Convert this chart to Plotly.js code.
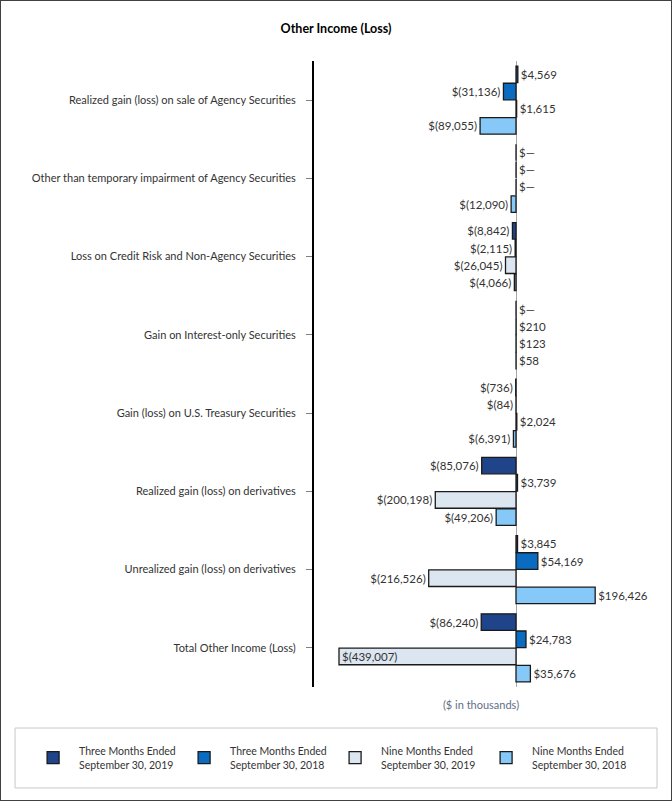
<!DOCTYPE html>
<html>
<head>
<meta charset="utf-8">
<script src="https://cdn.plot.ly/plotly-3.0.1.min.js"></script>
<style>
  html, body { margin: 0; padding: 0; background: #fff; }
  #chart { width: 672px; height: 801px; box-sizing: border-box; border: 1px solid #404040; }
</style>
</head>
<body>
<div id="chart"></div>
<script>
// categories, top to bottom
const categories = [
  'Realized gain (loss) on sale of Agency Securities',
  'Other than temporary impairment of Agency Securities',
  'Loss on Credit Risk and Non-Agency Securities',
  'Gain on Interest-only Securities',
  'Gain (loss) on U.S. Treasury Securities',
  'Realized gain (loss) on derivatives',
  'Unrealized gain (loss) on derivatives',
  'Total Other Income (Loss)'
]

const seriesNames = [
  'Three Months Ended<br>September 30, 2019',
  'Three Months Ended<br>September 30, 2018',
  'Nine Months Ended<br>September 30, 2019',
  'Nine Months Ended<br>September 30, 2018'
]

// $ in thousands
const threeMonths2019 = [4569, 0, -8842, 0, -736, -85076, 3845, -86240]
const threeMonths2018 = [-31136, 0, -2115, 210, -84, 3739, 54169, 24783]
const nineMonths2019 = [1615, 0, -26045, 123, 2024, -200198, -216526, -439007]
const nineMonths2018 = [-89055, -12090, -4066, 58, -6391, -49206, 196426, 35676]

const colors = ['#1f4489', '#0a6cc0', '#dce6f1', '#86c8f8']

function fmt(v) {
  if (v === 0) { return '$\u2014' }
  const s = Math.abs(v).toLocaleString('en-US')
  return v < 0 ? `$(${s})` : `$${s}`
}

const allSeries = [threeMonths2019, threeMonths2018, nineMonths2019, nineMonths2018]
const xRange = [-501000, 327400]

const data = allSeries.map((vals, i) => ({
  type: 'bar',
  orientation: 'h',
  name: seriesNames[i],
  y: categories,
  x: vals,
  text: vals.map(fmt),
  // put the label inside when it would run off the left edge
  textposition: vals.map(v => (v < xRange[0] * 0.8 ? 'inside' : 'outside')),
  insidetextanchor: 'end',
  constraintext: 'none',
  cliponaxis: false,
  textfont: { family: 'Lato, sans-serif', size: 11.5, color: '#333' },
  insidetextfont: { family: 'Lato, sans-serif', size: 11.5, color: '#333' },
  outsidetextfont: { family: 'Lato, sans-serif', size: 11.5, color: '#333' },
  marker: {
    color: colors[i],
    line: { color: '#1a1a1a', width: 1.3 }
  },
  hoverinfo: 'x+y'
}))

const layout = {
  width: 670,
  height: 799,
  margin: { l: 313, r: 23, t: 60, b: 113 },
  paper_bgcolor: '#fff',
  plot_bgcolor: '#fff',
  font: { family: 'Lato, sans-serif', size: 11, color: '#333' },
  title: {
    text: '<b>Other Income (Loss)</b>',
    font: { family: 'Lato, sans-serif', size: 12.5, color: '#000' },
    x: 0.5,
    xref: 'container',
    xanchor: 'center',
    y: 0.965,
    yref: 'container',
    yanchor: 'middle'
  },
  barmode: 'group',
  bargap: 0.12,
  bargroupgap: 0.04,
  xaxis: {
    range: xRange,
    showticklabels: false,
    ticks: '',
    showgrid: false,
    showline: false,
    zeroline: true,
    zerolinecolor: '#a6a6a6',
    zerolinewidth: 1,
    title: {
      text: '($ in thousands)',
      font: { family: 'Lato, sans-serif', size: 11, color: '#5f6f86' },
      standoff: 14
    }
  },
  yaxis: {
    autorange: 'reversed',
    showgrid: false,
    showline: true,
    linecolor: '#000',
    linewidth: 2,
    ticks: 'outside',
    ticklen: 6,
    tickcolor: '#7f7f7f',
    ticklabelstandoff: 8,
    tickfont: { family: 'Lato, sans-serif', size: 11, color: '#333' }
  },
  showlegend: true,
  legend: {
    orientation: 'h',
    x: -0.859,
    xanchor: 'left',
    y: -0.1134,
    yanchor: 'middle',
    bgcolor: 'rgba(0,0,0,0)',
    borderwidth: 0,
    entrywidth: 94,
    entrywidthmode: 'pixels',
    traceorder: 'normal',
    itemwidth: 42,
    font: { family: 'Lato, sans-serif', size: 10.5, color: '#333' }
  },
  shapes: [{
    type: 'rect',
    xref: 'paper',
    yref: 'paper',
    x0: -0.895,
    x1: 1.027,
    y0: -0.0655,
    y1: -0.1613,
    line: { color: '#c8c8c8', width: 1 },
    fillcolor: 'rgba(0,0,0,0)',
    layer: 'below'
  }]
}

Plotly.newPlot('chart', data, layout, { displayModeBar: false, responsive: false })
</script>
</body>
</html>
